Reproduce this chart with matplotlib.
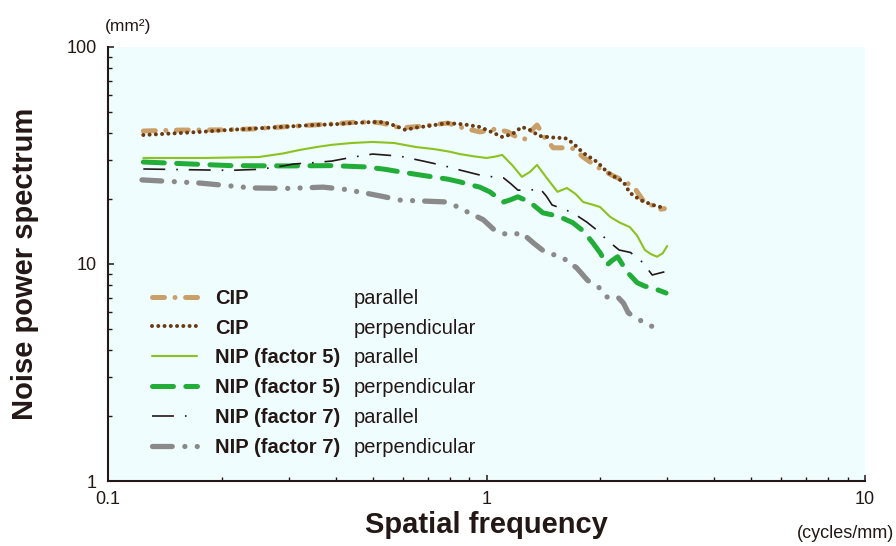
import matplotlib
matplotlib.use("Agg")  # headless
import matplotlib.pyplot as plt
from matplotlib.lines import Line2D
from matplotlib.ticker import NullFormatter

plt.rcParams["font.family"] = ["Liberation Sans", "DejaVu Sans"]
plt.rcParams["lines.scale_dashes"] = False

INK = "#231815"

# values (x in cycles/mm, y in mm^2)
cip_par_x = [0.124, 0.155, 0.2, 0.24, 0.3, 0.35, 0.4, 0.45, 0.5, 0.53, 0.56, 0.59, 0.64, 0.7,
             0.79, 0.87, 0.96, 1.06, 1.14, 1.2, 1.26, 1.31, 1.36, 1.42, 1.5, 1.6, 1.7, 1.8,
             1.96, 2.14, 2.3, 2.46, 2.62, 2.75, 2.84, 2.95]
cip_par_y = [41, 41.4, 41.5, 41.9, 43, 43.7, 44.3, 45, 45.1, 44.6, 43.5, 42.4, 42.8, 43.5,
             44.6, 42.3, 40.6, 41.9, 40.6, 38.5, 37.6, 41, 43.7, 38.5, 34.3, 34.3, 34, 31.1,
             28, 25.7, 24.2, 22.4, 19.1, 18.6, 17.8, 18]

cip_perp_x = [0.124, 0.15, 0.175, 0.21, 0.263, 0.3, 0.35, 0.393, 0.443, 0.5, 0.535, 0.556,
              0.59, 0.61, 0.65, 0.7, 0.787, 0.87, 0.96, 1.03, 1.1, 1.17, 1.24, 1.3, 1.38,
              1.46, 1.54, 1.61, 1.69, 1.8, 1.96, 2.08, 2.18, 2.3, 2.39, 2.55, 2.75, 2.95]
cip_perp_y = [39.3, 40, 40.6, 41.5, 42.4, 43, 43.7, 44, 44.6, 45.1, 45, 44.2,
              42.5, 41.5, 42.5, 43.2, 44.6, 44, 42.8, 40.6, 38.5, 39.7, 42.8, 41.5, 38.9,
              38.4, 38.1, 38.1, 36.1, 32.5, 29.5, 26.6, 25.2, 23.9, 21.3, 19.7, 18.7, 18.1]

nip5_par_x = [0.124, 0.18, 0.25, 0.29, 0.32, 0.36, 0.39, 0.44, 0.5, 0.57, 0.65, 0.73, 0.8,
              0.85, 0.93, 1.0, 1.05, 1.1, 1.17, 1.24, 1.3, 1.36, 1.44, 1.54, 1.63, 1.72, 1.8,
              1.9, 1.995, 2.12, 2.25, 2.39, 2.5, 2.62, 2.72, 2.82, 2.92, 3.0]
nip5_par_y = [30.8, 30.8, 31.1, 32.3, 33.5, 34.7, 35.4, 36.1, 36.5, 36.1, 34.6, 33.8, 32.9,
              32.1, 31.3, 30.8, 31.2, 31.8, 28.5, 25.2, 26.5, 28.6, 25, 21.5, 22.4, 21, 19.3,
              18.8, 18.3, 16.5, 15.5, 14.8, 13.5, 11.6, 11.1, 10.8, 11.2, 12.1]

nip5_perp_x = [0.124, 0.21, 0.3, 0.39, 0.48, 0.54, 0.59, 0.65, 0.72, 0.79, 0.85, 0.92, 0.96,
               1.02, 1.07, 1.11, 1.16, 1.21, 1.3, 1.41, 1.5, 1.56, 1.69, 1.8, 1.91, 2.0, 2.08,
               2.15, 2.22, 2.35, 2.5, 2.62, 2.75, 2.98]
nip5_perp_y = [29.5, 28.4, 28.3, 28.4, 28, 27.3, 26.6, 25.9, 25.2, 24.6, 23.9, 23, 22.6,
               21.5, 20.2, 19.3, 19.8, 20.4, 19.3, 17.2, 16.8, 16.5, 15.5, 14.2, 12.5, 11.2, 9.9,
               10.4, 10.8, 9.2, 8.2, 7.9, 7.75, 7.35]

nip7_par_x = [0.124, 0.21, 0.25, 0.28, 0.31, 0.35, 0.39, 0.44, 0.5, 0.59, 0.68, 0.77, 0.85,
              0.96, 1.04, 1.11, 1.16, 1.21, 1.3, 1.38, 1.44, 1.49, 1.6, 1.69, 1.84, 1.96, 2.08,
              2.24, 2.4, 2.58, 2.74, 2.95]
nip7_par_y = [27.4, 27, 27.3, 28, 28.9, 29.3, 29.8, 31, 32.1, 31.4, 29.8, 28.4, 27.1,
              25.7, 25.2, 24.9, 23.4, 21.9, 21.8, 22.4, 20.5, 18.7, 17.9, 17.2, 15.6, 14.3, 12.9,
              11.6, 11.3, 10.2, 8.9, 9.2]

nip7_perp_x = [0.123, 0.175, 0.24, 0.3, 0.37, 0.42, 0.48, 0.53, 0.59, 0.68, 0.79, 0.85, 0.9,
               0.98, 1.06, 1.15, 1.24, 1.33, 1.44, 1.52, 1.6, 1.73, 1.85, 1.98, 2.08, 2.22,
               2.3, 2.37, 2.5, 2.7, 2.9]
nip7_perp_y = [24.4, 23.6, 22.4, 22.3, 22.6, 22.1, 21.2, 20.5, 19.7, 19.5, 19.3, 18.1, 17.2,
               16.0, 14.1, 13.6, 13.9, 12.5, 11.2, 11.0, 10.6, 9.6, 8.4, 7.8, 7.05, 7.05,
               6.6, 5.95, 5.6, 5.2, 5.0]

methods = ["CIP", "CIP", "NIP (factor 5)", "NIP (factor 5)", "NIP (factor 7)", "NIP (factor 7)"]
directions = ["parallel", "perpendicular", "parallel", "perpendicular", "parallel", "perpendicular"]

series = [
    (cip_par_x, cip_par_y,
     dict(color="#c9a06a", lw=3.6, dashes=(8.6, 7.6, 0.01, 7.6), dash_capstyle="round")),
    (cip_perp_x, cip_perp_y,
     dict(color="#6a3a12", lw=2.9, dashes=(0.01, 4.5), dash_capstyle="round")),
    (nip5_par_x, nip5_par_y,
     dict(color="#8cc21f", lw=1.5, linestyle="-")),
    (nip5_perp_x, nip5_perp_y,
     dict(color="#22ac38", lw=3.6, dashes=(15.1, 8.9), dash_capstyle="round")),
    (nip7_par_x, nip7_par_y,
     dict(color=INK, lw=1.2, dashes=(15.8, 7.9, 1.2, 7.8), dash_capstyle="butt")),
    (nip7_perp_x, nip7_perp_y,
     dict(color="#8a8a8a", lw=3.8, dashes=(14.2, 9.1, 0.01, 8.9, 0.01, 8.7),
          dash_capstyle="round")),
]

fig = plt.figure(figsize=(8.96, 5.46), dpi=100)
ax = fig.add_axes([0.1205, 0.119, 0.845, 0.795])
ax.set_facecolor("#f0fdfe")

handles = []
for xs, ys, st in series:
    line, = ax.plot(xs, ys, solid_capstyle="round", solid_joinstyle="round", **st)
    handles.append(line)

ax.set_xscale("log")
ax.set_yscale("log")
ax.set_xlim(0.1, 10)
ax.set_ylim(1, 100)
ax.set_xticks([0.1, 1, 10], ["0.1", "1", "10"])
ax.set_yticks([1, 10, 100], ["1", "10", "100"])
ax.xaxis.set_minor_formatter(NullFormatter())
ax.yaxis.set_minor_formatter(NullFormatter())

for side in ("top", "right"):
    ax.spines[side].set_visible(False)
for side in ("left", "bottom"):
    ax.spines[side].set_linewidth(1.5)
    ax.spines[side].set_color(INK)

ax.tick_params(which="major", direction="in", length=4.5, width=1.1, color=INK,
               labelsize=13, labelcolor=INK)
ax.tick_params(which="minor", direction="in", length=3, width=1.0, color=INK)
ax.tick_params(axis="y", pad=8)
ax.tick_params(axis="x", pad=7)

# two-column legend: method (bold) and direction (regular)
leg1 = ax.legend(handles, methods, loc="upper left", bbox_to_anchor=(0.058, 0.443),
                 frameon=False, borderpad=0, borderaxespad=0, handlelength=2.24,
                 handletextpad=0.9, labelspacing=0.535, labelcolor=INK,
                 prop={"family": "Liberation Sans", "weight": "bold", "size": 14.5})
ax.add_artist(leg1)
blank = [Line2D([], [], linestyle="none") for _ in directions]
ax.legend(blank, directions, loc="upper left", bbox_to_anchor=(0.325, 0.443),
          frameon=False, borderpad=0, borderaxespad=0, handlelength=0,
          handletextpad=0, labelspacing=0.535, labelcolor=INK,
          prop={"family": "Liberation Sans", "size": 14.5})

fig.text(25 / 896, 0.516, "Noise power spectrum", rotation=90, ha="center", va="center",
         fontsize=21, fontweight="bold", color=INK)
fig.text(486 / 896, 1 - 525 / 546, "Spatial frequency", ha="center", va="center",
         fontsize=21, fontweight="bold", color=INK)
fig.text(128 / 896, 1 - 26 / 546, "(mm²)", ha="center", va="center", fontsize=12.5, color=INK)
fig.text(894 / 896, 1 - 534 / 546, "(cycles/mm)", ha="right", va="center", fontsize=13,
         color=INK)

fig.savefig("out.png", dpi=100)
